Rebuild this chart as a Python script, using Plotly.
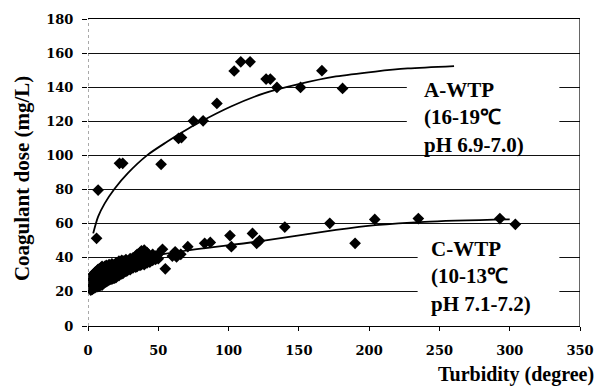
import plotly.graph_objects as go

# A-WTP observations (turbidity, coagulant dose)
a_turb = [6.1, 7.2, 22.4, 24.7, 52, 64.4, 66.5, 75, 81.9, 91.7, 104, 108.7, 115.3,
          126.7, 129.7, 134.4, 151.2, 166.4, 181.1]
a_dose = [51.4, 79.7, 95.4, 95.4, 94.8, 110, 110.5, 120.2, 120.3, 130.5, 149.5, 154.9, 154.9,
          144.8, 144.8, 139.9, 139.9, 149.7, 139.3]

# C-WTP observations (turbidity, coagulant dose)
c_turb = [2, 2, 2, 2, 3, 3, 3, 3, 4, 4, 4, 4, 5, 5, 5, 5, 5, 6, 6, 6, 6, 7, 7, 7, 7, 7,
          8, 8, 8, 8, 9, 9, 9, 9, 10, 10, 10, 10, 10, 11, 11, 11, 12, 12, 12, 12,
          13, 13, 13, 13, 14, 14, 14, 15, 15, 15, 15, 16, 16, 16, 17, 17, 17, 17,
          18, 18, 18, 19, 19, 19, 20, 20, 20, 20, 22, 22, 22, 22, 24, 24, 24, 24,
          25, 25, 25, 27, 27, 27, 28, 28, 30, 30, 30, 30, 32, 32, 32, 34, 34, 34,
          35, 35, 35, 37, 37, 37, 38, 38, 38, 40, 40, 40, 40, 42, 42, 42, 44, 44,
          46, 46, 48, 48, 50, 50,
          53, 55, 60, 62, 63, 66, 71, 83, 87, 101, 102, 117, 120, 122, 140, 172,
          190, 204, 235, 293, 304]
c_dose = [21, 23.5, 26, 28, 21.5, 24, 27, 29.5, 22, 25, 28, 30.5, 22.5, 25, 27.5, 30, 31.5,
          23, 26, 29, 32, 23, 25.5, 28, 31, 33, 23.5, 27, 30, 33.5, 24, 27.5, 31, 34,
          24, 27, 30, 33, 35, 25, 29, 33, 25.5, 28.5, 32, 35, 26, 29, 32.5, 35.5,
          26.5, 30, 34, 27, 29.5, 33, 36, 27.5, 31, 35, 27.5, 30.5, 34, 36.5,
          28, 32, 35.5, 28, 32, 36, 28.5, 31.5, 34.5, 37, 29.5, 33, 36, 38, 30.5, 33.5, 36, 38.5,
          31, 34.5, 38, 32, 35.5, 39, 32.5, 37, 33, 35.5, 38, 39.5, 34, 37, 40, 34.5, 37.5, 41,
          35, 38.5, 42, 35.5, 38.5, 43, 36, 40, 44, 36, 38.5, 41.5, 44.5, 37, 40, 43, 37.5, 41,
          38.5, 42, 39, 41, 39.5, 42,
          45, 33.5, 41, 43.5, 40.5, 42, 46.5, 48.5, 49, 53, 46.5, 54.3, 48.5, 50,
          58, 60.2, 48.5, 62.5, 63, 63, 59.6]

# Trend curves
a_fit_x = [3.7, 7.2, 11.9, 18.9, 28.2, 42.2, 56.2, 67.9, 78.4, 101.7, 125.1, 148.4,
           176.4, 204.4, 227.5, 260.4]
a_fit_y = [54.3, 64.1, 71.9, 80.5, 89.5, 100.2, 108, 114, 119, 128.7, 136.4, 141.5,
           146.3, 149.2, 151, 152.4]
c_fit_x = [2, 5, 10, 20, 35, 64.4, 120.4, 176.4, 204.4, 239.4, 300]
c_fit_y = [23, 27, 30.5, 34.5, 39, 43.6, 49.5, 56.3, 59.1, 61.1, 62.5]

x_ticks = [0, 50, 100, 150, 200, 250, 300, 350]
y_ticks = [0, 20, 40, 60, 80, 100, 120, 140, 160, 180]

serif = "Liberation Serif, Times New Roman, serif"
tick_font = dict(family="DejaVu Serif", size=13, color="black", weight="bold")

fig = go.Figure()

marker = dict(symbol="diamond", size=9, color="black", line=dict(width=0))
line = dict(color="black", width=1.8, shape="spline", smoothing=0.8)

fig.add_trace(go.Scatter(x=a_fit_x, y=a_fit_y, mode="lines", line=line, hoverinfo="skip"))
fig.add_trace(go.Scatter(x=c_fit_x, y=c_fit_y, mode="lines", line=line, hoverinfo="skip"))
fig.add_trace(go.Scatter(x=a_turb, y=a_dose, mode="markers", marker=marker, name="A-WTP"))
fig.add_trace(go.Scatter(x=c_turb, y=c_dose, mode="markers", marker=marker, name="C-WTP"))

# white panels behind the plant labels (cover the grid)
fig.add_shape(type="rect", x0=226.8, x1=335.3, y0=103, y1=145.4, layer="between",
              fillcolor="white", line=dict(width=0))
fig.add_shape(type="rect", x0=234.5, x1=335.3, y0=9.4, y1=53, layer="between",
              fillcolor="white", line=dict(width=0))

# frame: dotted left edge, solid right edge
fig.add_shape(type="line", x0=0, x1=0, y0=0, y1=180, line=dict(color="#555", width=1, dash="dot"))
fig.add_shape(type="line", x0=350, x1=350, y0=-2.5, y1=180, line=dict(color="black", width=1.2))

fig.add_annotation(x=237.3, y=122, xref="x", yref="y", xanchor="left", yanchor="middle",
                   text="<b>A-WTP<br>(16-19℃<br>pH 6.9-7.0)</b>", showarrow=False, align="left",
                   font=dict(family=serif, size=21, color="black"))
fig.add_annotation(x=242.9, y=28.8, xref="x", yref="y", xanchor="left", yanchor="middle",
                   text="<b>C-WTP<br>(10-13℃<br>pH 7.1-7.2)</b>", showarrow=False, align="left",
                   font=dict(family=serif, size=21, color="black"))

fig.add_annotation(x=604, y=374, xref="paper", yref="paper", text="<b>Turbidity (degree)</b>",
                   showarrow=False, font=dict(family=serif, size=20, color="black"))
fig.add_annotation(x=21, y=179, xref="paper", yref="paper", text="<b>Coagulant dose (mg/L)</b>",
                   showarrow=False, textangle=-90, font=dict(family=serif, size=21, color="black"))

# convert the pixel-placed titles into paper coordinates
W, H = 606, 386
L, R, T, B = 88, 18, 19, 60
for ann in fig.layout.annotations[2:]:
    ann.x = (ann.x - L) / (W - L - R)
    ann.y = 1 - (ann.y - T) / (H - T - B)
    ann.xanchor = "center"
    ann.yanchor = "middle"
fig.layout.annotations[2].xanchor = "right"

fig.update_layout(
    width=W, height=H, autosize=False,
    margin=dict(l=L, r=R, t=T, b=B, pad=0),
    paper_bgcolor="white", plot_bgcolor="white",
    showlegend=False,
    xaxis=dict(range=[0, 350], tickvals=x_ticks,
               showgrid=False, zeroline=False, showline=True, mirror=True,
               linecolor="black", linewidth=1, ticks="outside", ticklen=4,
               tickcolor="black", tickfont=tick_font, ticklabelstandoff=8),
    yaxis=dict(range=[0, 180], tickvals=y_ticks,
               showgrid=True, gridcolor="#111", gridwidth=1, zeroline=False,
               showline=False, ticks="outside", ticklen=5, tickcolor="black",
               tickfont=tick_font, ticklabelstandoff=6),
)

fig.write_html("out.html")
